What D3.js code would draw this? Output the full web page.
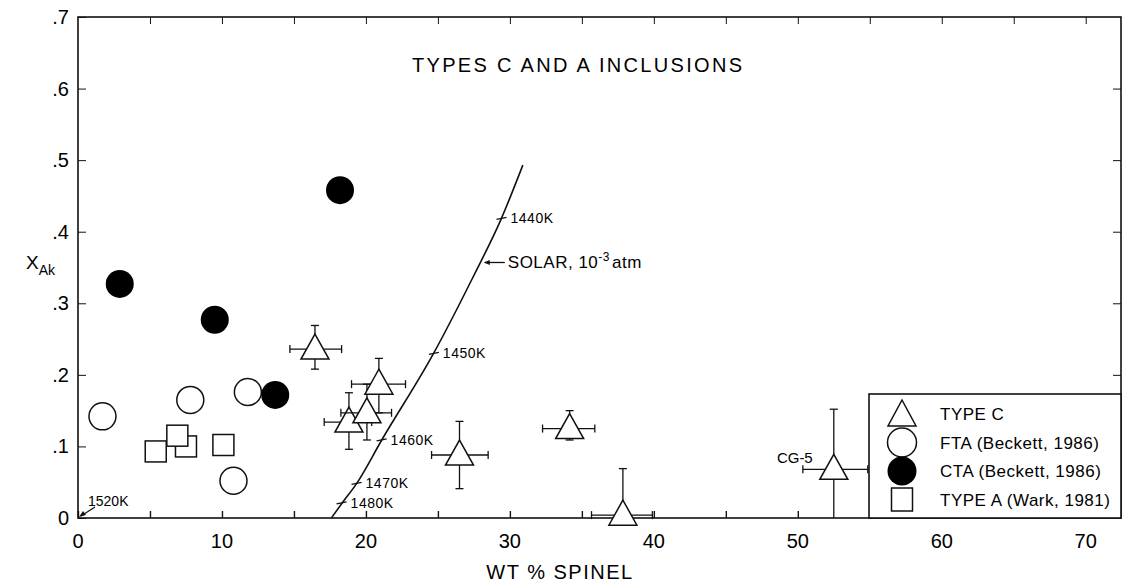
<!DOCTYPE html>
<meta charset="utf-8">
<style>
body { margin: 0; background: #fff; }
svg { font-family: "Liberation Sans", "DejaVu Sans", sans-serif; }
.ax line, .ax path { stroke: #111; }
</style>
<body>
<div class="canvas"></div>
</body>
<script src="https://cdn.jsdelivr.net/npm/d3@7"></script>
<script>

var w = 1122, h = 585;

// axis ticks
var xTicks = [0, 10, 20, 30, 40, 50, 60, 70];
var xMinor = d3.range(0, 75, 5);
var yTicks = [0, .1, .2, .3, .4, .5, .6, .7];
var yTickLabels = ["0", ".1", ".2", ".3", ".4", ".5", ".6", ".7"];

// CTA (Beckett, 1986) - filled circles
var ctaX = [2.9, 9.5, 13.7, 18.2];
var ctaY = [0.327, 0.277, 0.172, 0.458];
// FTA (Beckett, 1986) - open circles
var ftaX = [1.7, 7.8, 11.8, 10.8];
var ftaY = [0.142, 0.165, 0.176, 0.052];
// Type A (Wark, 1981) - squares
var typeAX = [5.4, 10.1, 7.5, 6.9];
var typeAY = [0.093, 0.102, 0.100, 0.115];
// Type C - triangles with error bars
var typeCX   = [16.46, 18.82, 20.07, 20.9, 26.5, 34.15, 37.85, 52.5];
var typeCY   = [0.236, 0.134, 0.147, 0.187, 0.088, 0.125, 0.004, 0.068];
var typeCXlo = [14.72, 17.1, 18.26, 19.0, 24.56, 32.27, 35.67, 50.35];
var typeCXhi = [18.31, 20.4, 21.78, 22.75, 28.49, 35.9, 39.9, 54.86];
var typeCYlo = [0.208, 0.096, 0.109, 0.147, 0.041, 0.109, 0, 0];
var typeCYhi = [0.269, 0.175, 0.187, 0.223, 0.135, 0.150, 0.069, 0.152];

// solar 10^-3 atm curve
var solarX = [17.6, 18.35, 19.35, 21.1, 24.7, 27.4, 29.4, 30.9];
var solarY = [0, 0.021, 0.048, 0.109, 0.230, 0.335, 0.418, 0.493];
// temperature marks on the curve
var tempLabels = ["1440K", "1450K", "1460K", "1470K", "1480K"];
var tempX = [29.42, 24.72, 21.09, 19.35, 18.31];
var tempY = [0.4186, 0.230, 0.109, 0.0485, 0.021];

var legendLabels = ["TYPE C", "FTA (Beckett, 1986)", "CTA (Beckett, 1986)", "TYPE A (Wark, 1981)"];

var x = d3.scaleLinear().domain([0, 72.45]).range([78, 1121]);
var y = d3.scaleLinear().domain([0, 0.7]).range([518, 17]);

var svg = d3.select(".canvas").append("svg")
    .attr("width", w)
    .attr("height", h);

// frame
svg.append("rect")
    .attr("x", x(0)).attr("y", y(0.7))
    .attr("width", x(72.45) - x(0)).attr("height", y(0) - y(0.7))
    .attr("fill", "none").attr("stroke", "#111").attr("stroke-width", 1.6);

// bottom axis, ticks pointing inward
var bottomAx = svg.append("g").attr("class", "ax")
    .attr("transform", "translate(0," + y(0) + ")")
    .call(d3.axisBottom(x).tickValues(xMinor).tickSize(-7).tickFormat(""));
bottomAx.select(".domain").remove();
bottomAx.selectAll(".tick line").attr("stroke-width", 1.4);

svg.append("g").selectAll("text")
    .data(xTicks)
  .enter().append("text")
    .attr("x", function(d) { return x(d); })
    .attr("y", 548)
    .attr("text-anchor", "middle")
    .attr("font-size", 20)
    .text(function(d) { return d; });

// top axis
var topAx = svg.append("g").attr("class", "ax")
    .attr("transform", "translate(0," + y(0.7) + ")")
    .call(d3.axisTop(x).tickValues(xMinor.filter(function(d) { return d > 0; })).tickSize(-7).tickFormat(""));
topAx.select(".domain").remove();

// left axis
var leftAx = svg.append("g").attr("class", "ax")
    .attr("transform", "translate(" + x(0) + ",0)")
    .call(d3.axisLeft(y).tickValues(yTicks).tickSize(-8).tickFormat(""));
leftAx.select(".domain").remove();

svg.append("g").selectAll("text")
    .data(yTicks)
  .enter().append("text")
    .attr("x", 69)
    .attr("y", function(d) { return y(d) + 7; })
    .attr("text-anchor", "end")
    .attr("font-size", 20)
    .text(function(d, i) { return yTickLabels[i]; });

// right axis
var rightAx = svg.append("g").attr("class", "ax")
    .attr("transform", "translate(" + x(72.45) + ",0)")
    .call(d3.axisRight(y).tickValues(yTicks.slice(1, 7)).tickSize(-8).tickFormat(""));
rightAx.select(".domain").remove();

// axis titles
svg.append("text")
    .attr("x", 560).attr("y", 579)
    .attr("text-anchor", "middle")
    .attr("font-size", 20)
    .attr("letter-spacing", 1.5)
    .text("WT % SPINEL");

var yl = svg.append("text").attr("x", 26).attr("y", 269).attr("font-size", 19);
yl.append("tspan").text("X");
yl.append("tspan").attr("dy", 6).attr("font-size", 14).text("Ak");

svg.append("text")
    .attr("x", 412).attr("y", 72)
    .attr("font-size", 20)
    .attr("textLength", 330)
    .attr("lengthAdjust", "spacing")
    .text("TYPES C AND A INCLUSIONS");

// solar curve
var curve = d3.line()
    .x(function(d) { return x(d[0]); })
    .y(function(d) { return y(d[1]); })
    .curve(d3.curveMonotoneX);

svg.append("path")
    .datum(solarX.map(function(d, i) { return [d, solarY[i]]; }))
    .attr("d", curve)
    .attr("fill", "none")
    .attr("stroke", "#111")
    .attr("stroke-width", 1.6);

var tm = svg.append("g").selectAll("g")
    .data(tempLabels)
  .enter().append("g")
    .attr("transform", function(d, i) { return "translate(" + x(tempX[i]) + "," + y(tempY[i]) + ")"; });
tm.append("line")
    .attr("x1", -5).attr("x2", 5).attr("y1", 1).attr("y2", -1)
    .attr("stroke", "#111").attr("stroke-width", 1.3);
tm.append("text")
    .attr("x", 9).attr("y", 5)
    .attr("font-size", 14)
    .attr("letter-spacing", 0.5)
    .text(function(d) { return d; });

// SOLAR label with arrow
var arrowTip = [x(28.12), y(0.357)];
svg.append("line")
    .attr("x1", arrowTip[0] + 2).attr("y1", arrowTip[1])
    .attr("x2", arrowTip[0] + 22).attr("y2", arrowTip[1])
    .attr("stroke", "#111").attr("stroke-width", 1.3);
svg.append("path")
    .attr("d", "M" + (arrowTip[0] + 1) + "," + arrowTip[1] + "l6,-2.5l0,5z")
    .attr("fill", "#111");
var sl = svg.append("text")
    .attr("x", arrowTip[0] + 25).attr("y", arrowTip[1] + 6)
    .attr("font-size", 17)
    .attr("letter-spacing", 0.5);
sl.append("tspan").text("SOLAR, 10");
sl.append("tspan").attr("dy", -7).attr("font-size", 12).text("-3");
sl.append("tspan").attr("dy", 7).attr("dx", 2).text("atm");

// 1520K arrow to origin
svg.append("line")
    .attr("x1", x(0) + 3).attr("y1", y(0) - 2)
    .attr("x2", x(0) + 17).attr("y2", y(0) - 11)
    .attr("stroke", "#111").attr("stroke-width", 1.2);
svg.append("path")
    .attr("d", "M" + (x(0) + 1) + "," + (y(0) - 1) + "l4,-6l3,4z")
    .attr("fill", "#111");
svg.append("text")
    .attr("x", 88).attr("y", 506)
    .attr("font-size", 14)
    .text("1520K");

// Type A squares
svg.append("g").selectAll("rect")
    .data(typeAX)
  .enter().append("rect")
    .attr("x", function(d) { return x(d) - 10.5; })
    .attr("y", function(d, i) { return y(typeAY[i]) - 10.5; })
    .attr("width", 21).attr("height", 21)
    .attr("fill", "#fff").attr("stroke", "#111").attr("stroke-width", 1.5);

// FTA open circles
svg.append("g").selectAll("circle")
    .data(ftaX)
  .enter().append("circle")
    .attr("cx", function(d) { return x(d); })
    .attr("cy", function(d, i) { return y(ftaY[i]); })
    .attr("r", 13.5)
    .attr("fill", "#fff").attr("stroke", "#111").attr("stroke-width", 1.5);

// CTA filled circles
svg.append("g").selectAll("circle")
    .data(ctaX)
  .enter().append("circle")
    .attr("cx", function(d) { return x(d); })
    .attr("cy", function(d, i) { return y(ctaY[i]); })
    .attr("r", 14)
    .attr("fill", "#000");

// Type C with error bars
var tri = "M0,-15L14,10L-14,10Z";
var tc = svg.append("g").selectAll("g")
    .data(typeCX)
  .enter().append("g");

tc.each(function(d, i) {
  var g = d3.select(this);
  var cx = x(d), cy = y(typeCY[i]);
  var segs = [
    [x(typeCXlo[i]), cy, x(typeCXhi[i]), cy],
    [cx, y(typeCYlo[i]), cx, y(typeCYhi[i])],
    [x(typeCXlo[i]), cy - 4, x(typeCXlo[i]), cy + 4],
    [x(typeCXhi[i]), cy - 4, x(typeCXhi[i]), cy + 4],
    [cx - 4, y(typeCYhi[i]), cx + 4, y(typeCYhi[i])]
  ];
  if (typeCYlo[i] > 0) segs.push([cx - 4, y(typeCYlo[i]), cx + 4, y(typeCYlo[i])]);
  g.selectAll("line").data(segs).enter().append("line")
      .attr("x1", function(s) { return s[0]; })
      .attr("y1", function(s) { return s[1]; })
      .attr("x2", function(s) { return s[2]; })
      .attr("y2", function(s) { return s[3]; })
      .attr("stroke", "#111").attr("stroke-width", 1.3);
  g.append("path")
      .attr("d", tri)
      .attr("transform", "translate(" + cx + "," + cy + ")")
      .attr("fill", "#fff").attr("stroke", "#111").attr("stroke-width", 1.5);
});

svg.append("text")
    .attr("x", x(52.5) - 39).attr("y", y(0.068) - 6)
    .attr("text-anchor", "middle")
    .attr("font-size", 15)
    .text("CG-5");

// legend
var lg = svg.append("g").attr("transform", "translate(869,394)");
lg.append("rect")
    .attr("width", x(72.45) - 869).attr("height", y(0) - 394)
    .attr("fill", "#fff").attr("stroke", "#111").attr("stroke-width", 1.6);

var items = lg.selectAll("g")
    .data(legendLabels)
  .enter().append("g")
    .attr("transform", function(d, i) { return "translate(33," + (20 + i * 28.5) + ")"; });

items.append("text")
    .attr("x", 38).attr("y", 6)
    .attr("font-size", 17)
    .attr("letter-spacing", 0.5)
    .text(function(d) { return d; });

items.each(function(d, i) {
  var g = d3.select(this);
  if (i == 0) g.append("path").attr("d", "M0,-14L14,12L-14,12Z").attr("fill", "#fff").attr("stroke", "#111").attr("stroke-width", 1.5);
  if (i == 1) g.append("circle").attr("r", 14.5).attr("fill", "#fff").attr("stroke", "#111").attr("stroke-width", 1.5);
  if (i == 2) g.append("circle").attr("r", 14.5).attr("fill", "#000");
  if (i == 3) g.append("rect").attr("x", -10.5).attr("y", -11.5).attr("width", 21).attr("height", 23).attr("fill", "#fff").attr("stroke", "#111").attr("stroke-width", 1.5);
});

</script>
